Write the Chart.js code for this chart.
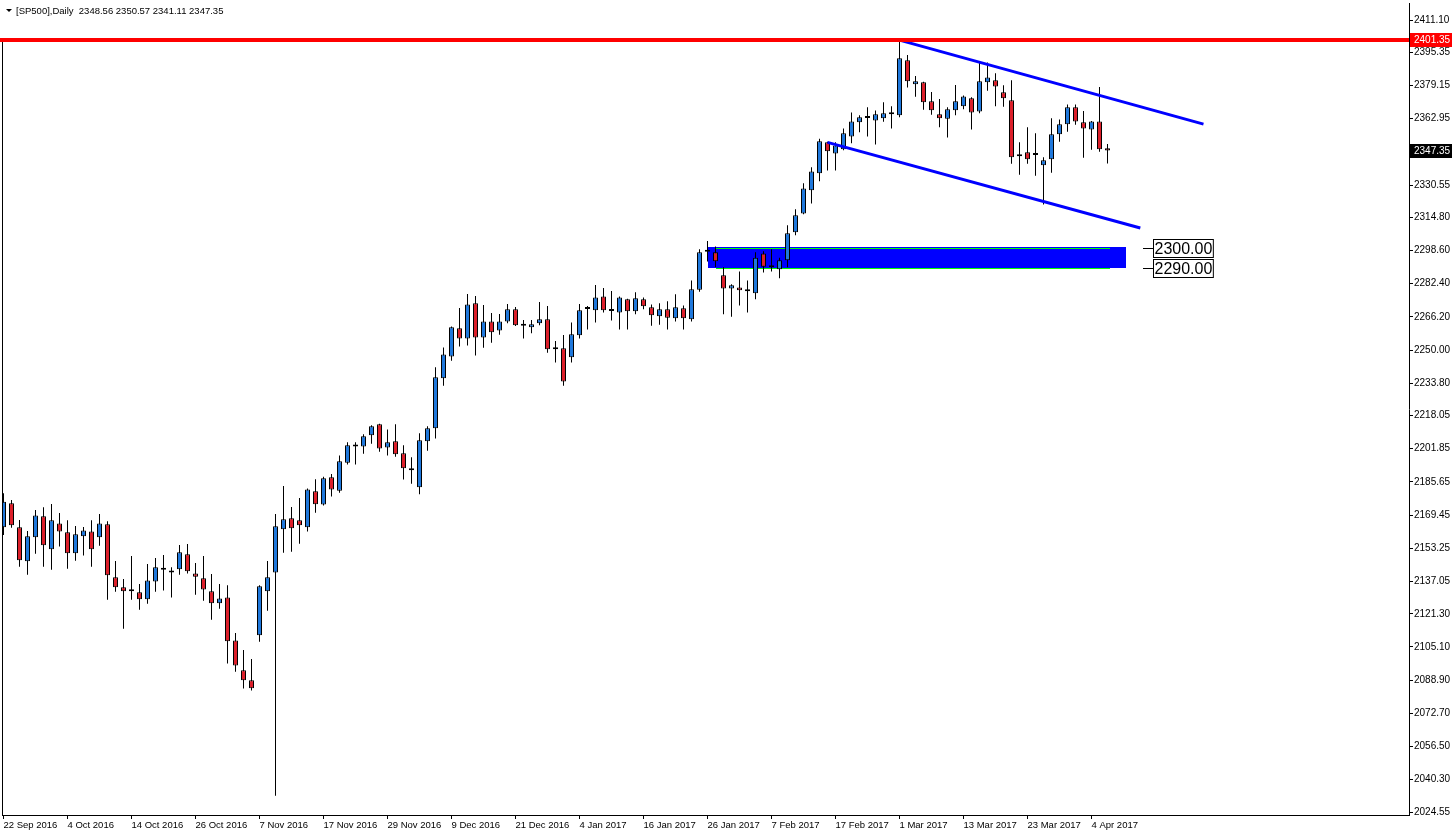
<!DOCTYPE html>
<html><head><meta charset="utf-8">
<script src="https://cdn.jsdelivr.net/npm/chart.js@4.4.1/dist/chart.umd.min.js"></script>
<style>html,body{margin:0;padding:0;background:#fff;overflow:hidden}canvas{display:block}</style>
</head><body>
<canvas id="c" width="1452" height="836"></canvas>
<script>
const symbolName = '[SP500],Daily';
const dates = [
'22 Sep 2016','23 Sep 2016','26 Sep 2016','27 Sep 2016','28 Sep 2016','29 Sep 2016','30 Sep 2016',
'3 Oct 2016','4 Oct 2016','5 Oct 2016','6 Oct 2016','7 Oct 2016','10 Oct 2016','11 Oct 2016','12 Oct 2016','13 Oct 2016','14 Oct 2016','17 Oct 2016','18 Oct 2016','19 Oct 2016','20 Oct 2016','21 Oct 2016','24 Oct 2016','25 Oct 2016','26 Oct 2016','27 Oct 2016','28 Oct 2016','31 Oct 2016',
'1 Nov 2016','2 Nov 2016','3 Nov 2016','4 Nov 2016','7 Nov 2016','8 Nov 2016','9 Nov 2016','10 Nov 2016','11 Nov 2016','14 Nov 2016','15 Nov 2016','16 Nov 2016','17 Nov 2016','18 Nov 2016','21 Nov 2016','22 Nov 2016','23 Nov 2016','24 Nov 2016','25 Nov 2016','28 Nov 2016','29 Nov 2016','30 Nov 2016',
'1 Dec 2016','2 Dec 2016','5 Dec 2016','6 Dec 2016','7 Dec 2016','8 Dec 2016','9 Dec 2016','12 Dec 2016','13 Dec 2016','14 Dec 2016','15 Dec 2016','16 Dec 2016','19 Dec 2016','20 Dec 2016','21 Dec 2016','22 Dec 2016','23 Dec 2016','27 Dec 2016','28 Dec 2016','29 Dec 2016','30 Dec 2016',
'3 Jan 2017','4 Jan 2017','5 Jan 2017','6 Jan 2017','9 Jan 2017','10 Jan 2017','11 Jan 2017','12 Jan 2017','13 Jan 2017','16 Jan 2017','17 Jan 2017','18 Jan 2017','19 Jan 2017','20 Jan 2017','23 Jan 2017','24 Jan 2017','25 Jan 2017','26 Jan 2017','27 Jan 2017','30 Jan 2017','31 Jan 2017',
'1 Feb 2017','2 Feb 2017','3 Feb 2017','6 Feb 2017','7 Feb 2017','8 Feb 2017','9 Feb 2017','10 Feb 2017','13 Feb 2017','14 Feb 2017','15 Feb 2017','16 Feb 2017','17 Feb 2017','20 Feb 2017','21 Feb 2017','22 Feb 2017','23 Feb 2017','24 Feb 2017','27 Feb 2017','28 Feb 2017',
'1 Mar 2017','2 Mar 2017','3 Mar 2017','6 Mar 2017','7 Mar 2017','8 Mar 2017','9 Mar 2017','10 Mar 2017','13 Mar 2017','14 Mar 2017','15 Mar 2017','16 Mar 2017','17 Mar 2017','20 Mar 2017','21 Mar 2017','22 Mar 2017','23 Mar 2017','24 Mar 2017','27 Mar 2017','28 Mar 2017','29 Mar 2017','30 Mar 2017','31 Mar 2017',
'3 Apr 2017','4 Apr 2017','5 Apr 2017','6 Apr 2017'];

const opens = [2163.5,2175.2,2163.5,2146.9,2158.6,2168.9,2152.8,2165.4,2161.1,2150.8,2159.1,2161.5,2158.6,2165.0,2139.1,2134.2,2132.3,2131.8,2128.4,2137.1,
2142.8,2141.4,2143.0,2150.3,2141.0,2138.6,2132.3,2126.4,2129.3,2108.3,2093.7,2088.8,2110.8,2132.3,2141.5,2162.5,2167.9,2166.9,2163.5,2181.1,
2174.6,2187.9,2181.4,2195.0,2203.0,2203.0,2208.4,2213.8,2202.5,2205.5,2199.6,2191.3,2183.0,2205.5,2211.8,2236.2,2246.9,2260.6,2255.7,2272.8,
2256.2,2264.0,2259.6,2264.0,2269.9,2261.9,2261.1,2263.1,2265.0,2250.4,2250.9,2246.5,2257.2,2270.0,2269.4,2276.2,2269.1,2268.4,2274.8,2268.9,
2274.8,2270.9,2266.5,2269.9,2265.5,2270.4,2265.0,2279.5,2298.0,2297.7,2286.5,2280.1,2280.6,2278.7,2277.7,2297.2,2290.4,2289.4,2293.8,2307.5,
2316.7,2328.0,2336.3,2351.4,2346.0,2348.0,2354.3,2361.2,2363.3,2362.1,2363.1,2366.0,2364.6,2391.4,2379.7,2380.7,2371.4,2365.1,2362.9,2367.0,
2369.0,2372.9,2366.5,2380.7,2381.7,2375.8,2371.9,2344.6,2346.5,2345.2,2340.2,2343.1,2355.3,2360.2,2368.5,2361.2,2357.7,2361.6,2348.56];
const highs = [2180.1,2176.8,2167.1,2161.7,2172.0,2173.3,2174.9,2170.5,2166.9,2164.1,2163.7,2166.9,2170.0,2166.4,2147.1,2138.3,2149.5,2135.8,2145.6,2148.5,
2150.0,2144.0,2154.9,2155.4,2146.1,2149.5,2140.7,2135.8,2135.2,2111.9,2103.6,2099.2,2135.2,2147.1,2170.0,2183.7,2173.4,2177.8,2182.5,2186.9,
2188.2,2189.5,2198.6,2205.0,2205.0,2208.9,2213.3,2214.0,2211.3,2213.8,2203.5,2197.7,2209.4,2212.8,2241.6,2251.3,2261.5,2270.5,2277.4,2276.4,
2272.0,2268.1,2267.6,2272.5,2271.0,2264.7,2264.7,2273.5,2271.5,2254.4,2257.4,2263.5,2272.5,2271.5,2281.8,2280.3,2278.8,2276.2,2275.0,2278.2,
2275.7,2272.3,2272.8,2273.8,2277.2,2271.8,2284.0,2299.2,2303.2,2300.6,2290.4,2282.1,2288.4,2284.0,2297.7,2298.2,2299.2,2295.1,2310.9,2318.7,
2331.4,2339.2,2353.2,2351.7,2351.4,2358.2,2366.0,2364.6,2368.5,2366.9,2370.9,2369.0,2400.9,2394.0,2383.8,2381.0,2376.0,2372.5,2368.5,2379.4,
2374.3,2373.4,2390.4,2390.4,2385.1,2379.2,2381.7,2351.4,2358.7,2355.8,2344.1,2363.1,2362.6,2369.9,2369.9,2366.7,2361.8,2378.4,2350.57];
const lows = [2159.8,2163.3,2144.3,2140.4,2150.6,2144.3,2142.8,2154.1,2143.3,2147.2,2149.7,2144.3,2154.5,2128.2,2132.1,2114.0,2128.2,2123.3,2126.2,2132.1,
2132.6,2129.2,2140.4,2140.9,2130.6,2127.7,2118.4,2123.8,2097.0,2093.0,2084.8,2083.8,2107.7,2122.8,2032.5,2151.1,2151.6,2155.5,2161.4,2170.6,
2174.1,2178.5,2180.4,2194.1,2194.1,2199.4,2204.3,2200.4,2198.5,2198.0,2186.8,2184.8,2179.6,2200.9,2206.8,2232.6,2244.8,2251.7,2252.2,2247.3,
2251.2,2253.6,2257.5,2263.1,2261.8,2255.6,2258.2,2262.1,2248.7,2243.9,2232.6,2243.9,2255.6,2260.0,2263.5,2268.4,2264.4,2260.0,2260.0,2267.5,
2269.9,2261.9,2262.4,2260.0,2263.9,2260.0,2263.9,2278.5,2293.2,2290.6,2267.5,2266.3,2271.8,2268.3,2274.8,2287.9,2288.4,2285.0,2290.4,2306.0,
2316.3,2321.6,2332.4,2337.7,2337.7,2347.5,2350.9,2356.3,2354.3,2350.3,2361.5,2358.1,2363.6,2378.1,2373.7,2367.3,2364.9,2358.7,2353.7,2364.6,
2367.5,2357.6,2365.6,2376.6,2369.0,2368.8,2341.0,2335.6,2341.0,2335.1,2321.1,2336.6,2351.7,2356.6,2360.0,2343.9,2347.8,2346.8,2341.11];
const closes = [2176.0,2164.5,2147.4,2159.1,2169.3,2154.7,2166.9,2161.5,2150.8,2160.1,2162.0,2152.8,2165.4,2140.1,2134.2,2132.3,2133.2,2128.4,2137.6,2144.0,
2142.8,2141.4,2151.3,2142.0,2139.4,2133.2,2126.4,2128.8,2107.9,2096.1,2088.8,2084.9,2134.7,2139.1,2164.0,2167.4,2163.0,2164.5,2182.0,2174.7,
2187.4,2182.0,2195.7,2203.5,2203.0,2207.9,2212.8,2202.0,2205.0,2199.1,2192.3,2191.3,2206.0,2211.8,2236.7,2247.9,2261.1,2255.7,2272.3,2256.2,
2264.0,2258.7,2264.0,2269.9,2262.1,2261.9,2262.6,2265.0,2250.4,2250.4,2234.7,2257.7,2269.4,2270.0,2275.7,2269.4,2269.1,2275.7,2268.9,2275.3,
2271.4,2267.0,2269.9,2265.8,2270.9,2265.5,2279.7,2297.7,2298.0,2293.3,2280.1,2281.6,2279.2,2278.7,2295.1,2290.7,2290.4,2293.8,2307.0,2315.8,
2328.9,2337.2,2351.9,2347.0,2349.9,2355.8,2361.6,2363.6,2363.3,2365.1,2365.6,2365.1,2392.4,2381.2,2381.2,2370.9,2367.0,2363.1,2367.5,2371.4,
2373.8,2366.0,2381.2,2383.1,2378.7,2372.9,2344.1,2344.6,2343.1,2345.2,2342.6,2355.3,2360.2,2368.5,2361.6,2358.2,2361.6,2348.0,2347.35];

const yTicks = [2411.10,2395.35,2379.15,2362.95,2346.75,2330.55,2314.80,2298.60,2282.40,2266.20,2250.00,2233.80,2218.05,
2201.85,2185.65,2169.45,2153.25,2137.05,2121.30,2105.10,2088.90,2072.70,2056.50,2040.30,2024.55];

const resistanceLevel = 2401.35;
const upperTrend = [[112, 2401.3], [150, 2360.3]];
const lowerTrend = [[103, 2351.4], [142.1, 2309.6]];
const zoneBars = [88.0, 140.3];
const zonePrices = [2300.2, 2290.3];
const zoneLevels = [2300.00, 2290.00];
const levelLineBars = [89.0, 138.3];
const levelLabelBars = [142.45, 143.7];

const BLUE = '#1f78dc', RED = '#dc1f2a';
const FONT = 'Liberation Sans';

const bodyColors = opens.map((o,i)=> closes[i]>o ? BLUE : (closes[i]<o ? RED : '#000'));

const overlay = {
  id: 'overlay',
  beforeDatasetsDraw(chart){
    const {ctx, scales:{x,y}, chartArea:a} = chart;
    ctx.save();
    ctx.beginPath(); ctx.rect(a.left, a.top, a.right-a.left, a.bottom-a.top); ctx.clip();
    const x0 = Math.round(x.getPixelForValue(zoneBars[0])), x1 = Math.round(x.getPixelForValue(zoneBars[1]));
    const y0 = Math.round(y.getPixelForValue(zonePrices[0])), y1 = Math.round(y.getPixelForValue(zonePrices[1]));
    ctx.fillStyle = '#0000ff';
    ctx.fillRect(x0, y0, x1-x0, y1-y0);
    ctx.fillStyle = '#00ff00';
    const g0 = Math.round(x.getPixelForValue(levelLineBars[0])), g1 = Math.round(x.getPixelForValue(levelLineBars[1]));
    zoneLevels.forEach(v=>{
      const yy = Math.round(y.getPixelForValue(v));
      ctx.fillRect(g0, yy, g1-g0, 1);
    });
    ctx.restore();
  },
  afterDraw(chart){
    const {ctx, scales:{x,y}, chartArea:a} = chart;
    ctx.save();
    // left frame
    ctx.fillStyle = '#000';
    ctx.fillRect(Math.floor(a.left), 42, 1, a.bottom-42);
    // level labels
    ctx.font = '16px "'+FONT+'"';
    ctx.textBaseline = 'middle'; ctx.textAlign = 'left';
    zoneLevels.forEach(v=>{
      const yy = Math.round(y.getPixelForValue(v)) + 0.5;
      const lx0 = Math.round(x.getPixelForValue(levelLabelBars[0]));
      const lx1 = Math.round(x.getPixelForValue(levelLabelBars[1]));
      ctx.strokeStyle = '#000'; ctx.lineWidth = 1;
      ctx.beginPath(); ctx.moveTo(lx0, yy); ctx.lineTo(lx1, yy); ctx.stroke();
      const txt = v.toFixed(2);
      const w = ctx.measureText(txt).width + 2;
      ctx.fillStyle = '#fff';
      ctx.fillRect(lx1+0.5, yy-9, w, 18);
      ctx.strokeRect(lx1+0.5, yy-9, w, 18);
      ctx.fillStyle = '#000';
      ctx.fillText(txt, lx1+1.5, yy+1);
    });
    // axis price labels
    ctx.font = '10px "'+FONT+'"';
    const tag = (v, bg) => {
      const yy = Math.round(y.getPixelForValue(v));
      ctx.fillStyle = bg;
      ctx.fillRect(a.right+1, yy-7, 1452-a.right-1, 14);
      ctx.fillStyle = '#fff';
      ctx.fillText(v.toFixed(2), a.right+5, yy);
    };
    tag(resistanceLevel, '#ff0000');
    tag(closes[closes.length-1], '#000');
    // header
    ctx.fillStyle = '#000';
    ctx.beginPath(); ctx.moveTo(6,9); ctx.lineTo(12,9); ctx.lineTo(9,12); ctx.closePath(); ctx.fill();
    const n = closes.length-1;
    ctx.font = '9.5px "'+FONT+'"';
    ctx.fillText(symbolName + '  ' + [opens[n],highs[n],lows[n],closes[n]].map(v=>v.toFixed(2)).join(' '), 16, 11);
    ctx.restore();
  }
};

const seg = (pts) => pts.map(p=>({x:p[0], y:p[1]}));

new Chart(document.getElementById('c'), {
  type: 'bar',
  data: {
    datasets: [
      { type:'line', label:'resistance', data:[{x:-1,y:resistanceLevel},{x:180,y:resistanceLevel}],
        borderColor:'#ff0000', borderWidth:4, pointRadius:0, order:0, clip:{left:3,right:0,top:0,bottom:0} },
      { type:'line', label:'upper', data:seg(upperTrend), borderColor:'#0000ff', borderWidth:3, pointRadius:0, order:0 },
      { type:'line', label:'lower', data:seg(lowerTrend), borderColor:'#0000ff', borderWidth:3, pointRadius:0, order:0 },
      { label:'body', data: opens.map((o,i)=>({x:i, y:[o, closes[i]]})), backgroundColor: bodyColors,
        borderColor:'#000', borderWidth:1, borderSkipped:false, barThickness:5, minBarLength:2, grouped:false, inflateAmount:0, order:1 },
      { label:'wick', data: lows.map((l,i)=>({x:i, y:[l, highs[i]]})), backgroundColor:'#000',
        borderWidth:0, barThickness:1, grouped:false, inflateAmount:0, order:2 }
    ]
  },
  options: {
    responsive:false, animation:false, devicePixelRatio:1,
    layout:{ padding:{left:2, top:3, right:0, bottom:0}, autoPadding:false },
    plugins:{ legend:{display:false}, tooltip:{enabled:false} },
    scales:{
      x:{ type:'linear', position:'bottom', min:-0.1875, max:175.6875, offset:false, bounds:'data',
        afterBuildTicks: sc => { sc.ticks = dates.map((d,i)=>i).filter(i=>i%8===0).map(v=>({value:v})); },
        afterFit: sc => { sc.height = 21; sc.paddingLeft = 0; sc.paddingRight = 0; },
        ticks:{ callback: v => dates[v], align:'start', maxRotation:0, autoSkip:false, color:'#000', padding:1,
          font:{family:FONT, size:9.5} },
        grid:{ drawOnChartArea:false, offset:false, tickLength:4, color:'#000', tickColor:'#000' },
        border:{ color:'#000' } },
      y:{ type:'linear', position:'right', min:2023.09, max:2419.40, bounds:'data',
        afterBuildTicks: sc => { sc.ticks = yTicks.map(v=>({value:v})); },
        afterFit: sc => { sc.width = 43; sc.paddingTop = 0; sc.paddingBottom = 0; },
        ticks:{ callback: v => Number(v).toFixed(2), color:'#000', padding:1, font:{family:FONT, size:10} },
        grid:{ drawOnChartArea:false, tickLength:4, color:'#000', tickColor:'#000' },
        border:{ color:'#000' } }
    }
  },
  plugins:[overlay]
});
</script>
</body></html>
